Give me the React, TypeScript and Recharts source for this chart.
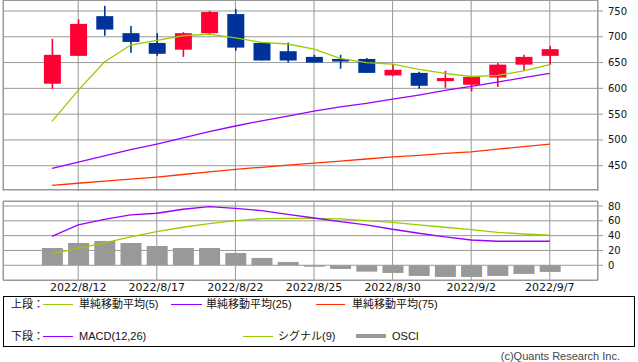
import React from 'react';
import { ComposedChart, Bar, Line, XAxis, YAxis, CartesianGrid } from 'recharts';

const dates = ['2022/8/10','2022/8/12','2022/8/15','2022/8/16','2022/8/17','2022/8/18','2022/8/19','2022/8/22','2022/8/23','2022/8/24','2022/8/25','2022/8/26','2022/8/29','2022/8/30','2022/8/31','2022/9/1','2022/9/2','2022/9/5','2022/9/6','2022/9/7'];
const openV = [609,663,740,707,688,675,707,744,688,672,661,657,657,625,630,614,607,621,646,663];
const closeV = [665,725,714,690,667,707,748,679,654,654,650,652,630,636,605,620,622,646,661,676];
const highV = [696,734,760,721,707,709,750,754,688,689,665,665,659,647,632,634,624,649,665,682];
const lowV = [599,663,702,669,663,661,705,673,654,650,650,638,630,624,599,601,594,603,634,646];
const ma5 = [536,596,651,684,693,702,705,698,689,686,676,658,650,647,637,629,623,625,634,646];
const ma25 = [445,457,469,481,492,504,516,527,537,546,556,564,571,579,587,596,604,612,621,629];
const ma75 = [412,416,420,424,428,433,438,443,447,451,455,459,463,467,470,474,477,482,487,492];
const macd = [39.1,54.4,62,67.9,70.2,75.6,79.1,76.9,73.7,68.8,63.8,58.8,54.4,48.6,43.2,38.2,34.1,32.4,32.4,32.4];
const signal = [15.7,22.9,30.1,38.2,45.3,51.3,56.1,60.2,62.9,63.4,63.4,62.5,60.2,58,54.4,51.3,48,44.5,42.2,40.5];
const osci = [23.3,30.1,32.8,30.1,26,23.3,23.3,16.6,9.9,4.5,-2,-5,-8.6,-10.4,-14.4,-15.8,-15.8,-14.4,-11.7,-9];

const xTicks = [1,4,7,10,13,16,19];
const priceTicks = [450,500,550,600,650,700,750];
const oscTicks = [0,20,40,60,80];

const data = dates.map((d, i) => ({
  i, date: d, open: openV[i], close: closeV[i], high: highV[i], low: lowV[i],
  ma5: ma5[i], ma25: ma25[i], ma75: ma75[i], macd: macd[i], signal: signal[i], osci: osci[i],
}));

const UP = '#FF0033';
const DOWN = '#003399';
const GRID = '#999999';
const X_DOMAIN: [number, number] = [-1.87, 20.84];

const Candle = (props: any) => {
  const { x, y, width, height, payload } = props;
  if (x == null || y == null) return null;
  const { open, close, high, low } = payload;
  const top = Math.min(y, y + height);
  const h = Math.abs(height);
  const ratio = h / (high - low || 1);
  const yOf = (v: number) => top + (high - v) * ratio;
  const color = close >= open ? UP : DOWN;
  const bTop = yOf(Math.max(open, close));
  const bBot = yOf(Math.min(open, close));
  const cx = x + width / 2;
  return (
    <g>
      <line x1={cx} x2={cx} y1={top} y2={top + h} stroke={color} strokeWidth={1.6} />
      <rect x={x} y={bTop} width={width} height={Math.max(bBot - bTop, 1)} fill={color} />
    </g>
  );
};

const axisFont = { fontSize: 10, fontFamily: 'DejaVu Sans', fill: '#111' };
const legendFont: React.CSSProperties = { position: 'absolute', fontSize: 11, fontFamily: '"Liberation Sans", "Noto Sans CJK JP", sans-serif', color: '#111', lineHeight: '14px', whiteSpace: 'nowrap' };

const LegLine = ({ x1, x2, y, color, w = 1 }: any) => (
  <div style={{ position: 'absolute', left: x1, top: y - w / 2, width: x2 - x1, height: w, background: color }} />
);
const LegText = ({ x, y, children }: any) => (
  <div style={{ ...legendFont, left: x, top: y - 7 }}>{children}</div>
);

export default function App() {
  return (
    <div style={{ position: 'absolute', left: 0, top: 0, width: 638, height: 362, background: '#fff', overflow: 'hidden' }}>
      <div style={{ position: 'absolute', left: 0, top: 0 }}>
        <ComposedChart width={638} height={191} data={data} margin={{ top: 0, right: 0, bottom: 0, left: 3 }}>
          <CartesianGrid stroke={GRID} strokeWidth={1} />
          <XAxis dataKey="i" type="number" domain={X_DOMAIN} ticks={xTicks} allowDataOverflow hide />
          <YAxis orientation="right" width={40} domain={[401, 771.3]} ticks={priceTicks} allowDataOverflow
            axisLine={false} tickLine={{ stroke: GRID }} tickSize={5} tickMargin={5} tick={axisFont} interval={0} />
          <Bar dataKey={(d: any) => [d.low, d.high]} barSize={17} shape={<Candle />} isAnimationActive={false} />
          <Line dataKey="ma75" stroke="#FF3300" strokeWidth={1.3} dot={false} isAnimationActive={false} />
          <Line dataKey="ma25" stroke="#9900FF" strokeWidth={1.3} dot={false} isAnimationActive={false} />
          <Line dataKey="ma5" stroke="#99CC00" strokeWidth={1.3} dot={false} isAnimationActive={false} />
        </ComposedChart>
      </div>
      <div style={{ position: 'absolute', left: 3, top: 0, width: 595, height: 190, border: `1px solid ${GRID}`, boxSizing: 'border-box', pointerEvents: 'none' }} />

      <div style={{ position: 'absolute', left: 0, top: 195 }}>
        <ComposedChart width={638} height={105} data={data} margin={{ top: 6, right: 0, bottom: 0, left: 3 }}>
          <CartesianGrid stroke={GRID} strokeWidth={1} />
          <XAxis dataKey="i" type="number" domain={X_DOMAIN} ticks={xTicks} allowDataOverflow height={20} interval={0}
            tickFormatter={(v: number) => dates[v]} axisLine={false} tickLine={false} tickSize={0} tickMargin={3}
            tick={{ fontSize: 11, fontFamily: 'DejaVu Sans', fill: '#111' }} />
          <YAxis orientation="right" width={40} domain={[-19.9, 86.75]} ticks={oscTicks} allowDataOverflow
            axisLine={false} tickLine={{ stroke: GRID }} tickSize={5} tickMargin={5} tick={axisFont} interval={0} />
          <Bar dataKey="osci" barSize={21} fill="#999999" isAnimationActive={false} />
          <Line dataKey="signal" stroke="#99CC00" strokeWidth={1.3} dot={false} isAnimationActive={false} />
          <Line dataKey="macd" stroke="#9900FF" strokeWidth={1.3} dot={false} isAnimationActive={false} />
        </ComposedChart>
      </div>
      <div style={{ position: 'absolute', left: 3, top: 201, width: 595, height: 80, border: `1px solid ${GRID}`, boxSizing: 'border-box', pointerEvents: 'none' }} />

      <div style={{ position: 'absolute', left: 3, top: 296, width: 632, height: 51, border: '1px solid #000', boxSizing: 'border-box' }} />
      <LegText x={11} y={304}>上段：</LegText>
      <LegLine x1={43} x2={73} y={304} color="#99CC00" />
      <LegText x={79} y={304}>単純移動平均(5)</LegText>
      <LegLine x1={171} x2={202} y={304} color="#9900FF" />
      <LegText x={206} y={304}>単純移動平均(25)</LegText>
      <LegLine x1={316} x2={345} y={304} color="#FF3300" />
      <LegText x={352} y={304}>単純移動平均(75)</LegText>

      <LegText x={11} y={336}>下段：</LegText>
      <LegLine x1={43} x2={73} y={336} color="#9900FF" />
      <LegText x={79} y={336}>MACD(12,26)</LegText>
      <LegLine x1={243} x2={273} y={336} color="#99CC00" />
      <LegText x={278} y={336}>シグナル(9)</LegText>
      <LegLine x1={356} x2={386} y={336} color="#999999" w={4} />
      <LegText x={392} y={336}>OSCI</LegText>

      <div style={{ ...legendFont, left: 'auto', right: 18, top: 349, color: '#444' }}>(c)Quants Research Inc.</div>
    </div>
  );
}
